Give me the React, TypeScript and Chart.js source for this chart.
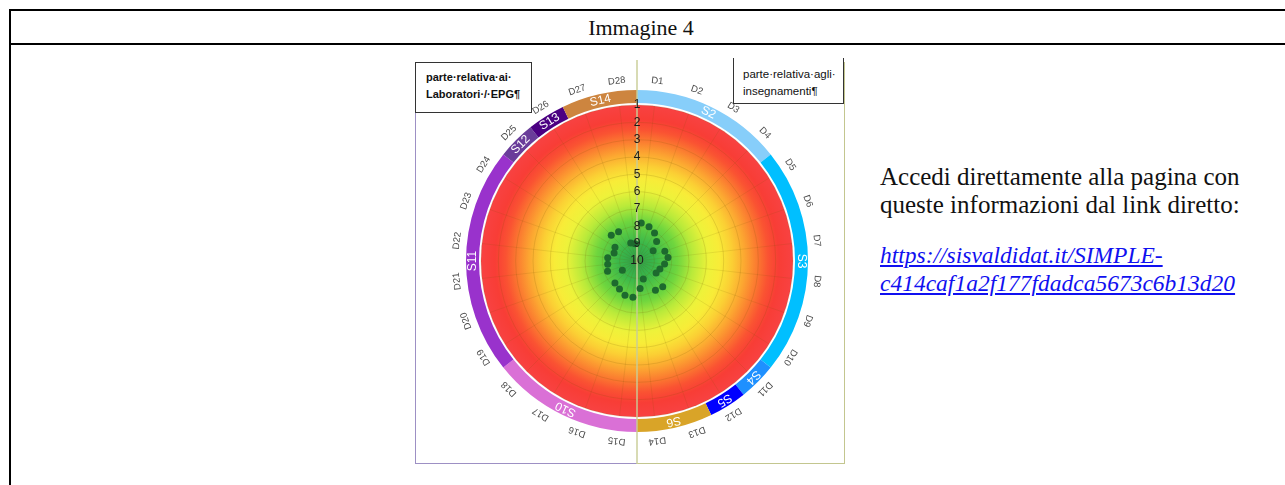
import React, { useEffect, useRef } from "react";
import { Chart, registerables } from "chart.js";

Chart.register(...registerables);

// ---------- data ----------
const dLabels = [
  "D1", "D2", "D3", "D4", "D5", "D6", "D7", "D8", "D9", "D10", "D11", "D12", "D13", "D14",
  "D15", "D16", "D17", "D18", "D19", "D20", "D21", "D22", "D23", "D24", "D25", "D26", "D27", "D28",
];
const dValues = [
  7.8, 7.9, 8.1, 8.4, 8.9, 8.3, 8.2, 8.4, 8.6, 8.7, 7.9, 8.0, 8.9, 8.4,
  7.9, 7.9, 8.1, 8.2, 9.0, 8.2, 8.3, 8.3, 8.6, 8.5, 7.9, 8.0, 8.9, 9.0,
];
const tickMin = 1;
const tickMax = 10;
const tickLabels = ["1", "2", "3", "4", "5", "6", "7", "8", "9", "10"];

const segLabels = ["S2", "S3", "S4", "S5", "S6", "S10", "S11", "S12", "S13", "S14"];
const segSlots = [4, 6, 1, 1, 2, 4, 6, 1, 1, 2];
const segColors = [
  "#87cefa", "#00bfff", "#1e90ff", "#0000ff", "#d9a428",
  "#da70d6", "#9932cc", "#6a3d9a", "#4b0082", "#cd853f",
];

const gradientStops: [number, string][] = [
  [0, "#2f9f4a"],
  [0.12, "#3bb84a"],
  [0.26, "#6fd63e"],
  [0.36, "#b9ea3a"],
  [0.46, "#eef23a"],
  [0.53, "#f8ec38"],
  [0.61, "#fbcf34"],
  [0.69, "#fca731"],
  [0.77, "#fb7a30"],
  [0.84, "#fa5332"],
  [0.91, "#f83d36"],
  [1, "#f84242"],
];

const ringPlugin = {
  id: "ringPlugin",
  beforeDraw(chart: any) {
    const s = chart.scales.r;
    const cx = s.xCenter;
    const cy = s.yCenter;
    const R = s.drawingArea;
    const ctx = chart.ctx as CanvasRenderingContext2D;
    const n = dLabels.length;
    const step = (2 * Math.PI) / n;
    ctx.save();
    // gradient disc
    const g = ctx.createRadialGradient(cx, cy, 0, cx, cy, R);
    gradientStops.forEach(([o, c]) => g.addColorStop(o, c));
    ctx.beginPath();
    ctx.arc(cx, cy, R, 0, Math.PI * 2);
    ctx.fillStyle = g;
    ctx.fill();

    // ring segments
    const rIn = R + 2;
    const rOut = R + 15;
    const rMid = (rIn + rOut) / 2;
    const base = s.getIndexAngle(0) - step / 2;
    let start = 0;
    segSlots.forEach((k, i) => {
      const b0 = base + start * step;
      const b1 = base + (start + k) * step;
      ctx.beginPath();
      ctx.arc(cx, cy, rOut, b0 - Math.PI / 2, b1 - Math.PI / 2);
      ctx.arc(cx, cy, rIn, b1 - Math.PI / 2, b0 - Math.PI / 2, true);
      ctx.closePath();
      ctx.fillStyle = segColors[i];
      ctx.fill();
      const mid = (b0 + b1) / 2;
      ctx.save();
      ctx.translate(cx + rMid * Math.sin(mid), cy - rMid * Math.cos(mid));
      ctx.rotate(mid);
      ctx.fillStyle = "#ffffff";
      ctx.font = "12px 'Liberation Sans', Arial, sans-serif";
      ctx.textAlign = "center";
      ctx.textBaseline = "middle";
      ctx.fillText(segLabels[i], 0, 0);
      ctx.restore();
      start += k;
    });

    // D labels
    const rLab = R + 25;
    dLabels.forEach((lab, i) => {
      const a = s.getIndexAngle(i);
      ctx.save();
      ctx.translate(cx + rLab * Math.sin(a), cy - rLab * Math.cos(a));
      ctx.rotate(a);
      ctx.fillStyle = "#4a4a4a";
      ctx.font = "9.5px 'Liberation Sans', Arial, sans-serif";
      ctx.textAlign = "center";
      ctx.textBaseline = "middle";
      ctx.fillText(lab, 0, 0);
      ctx.restore();
    });
    ctx.restore();
  },
  beforeDatasetsDraw(chart: any) {
    // frame divider passing through the picture centre
    const s = chart.scales.r;
    const ctx = chart.ctx as CanvasRenderingContext2D;
    ctx.save();
    ctx.fillStyle = "rgba(200,204,150,0.95)";
    ctx.fillRect(s.xCenter - 0.75, 3, 1.5, chart.height - 4);
    ctx.restore();
  },
  afterDatasetsDraw(chart: any) {
    // vertical radial tick labels (scale values 1..10)
    const s = chart.scales.r;
    const ctx = chart.ctx as CanvasRenderingContext2D;
    ctx.save();
    ctx.fillStyle = "#1a1a1a";
    ctx.font = "12px 'Liberation Sans', Arial, sans-serif";
    ctx.textAlign = "center";
    ctx.textBaseline = "middle";
    tickLabels.forEach((t) => {
      const d = s.getDistanceFromCenterForValue(Number(t));
      ctx.fillText(t, s.xCenter, s.yCenter - d);
    });
    ctx.restore();
  },
};

function PolarChart() {
  const ref = useRef<HTMLCanvasElement | null>(null);
  useEffect(() => {
    if (!ref.current) return;
    const chart = new Chart(ref.current, {
      type: "radar",
      data: {
        labels: dLabels,
        datasets: [
          {
            data: dValues,
            showLine: false,
            fill: false,
            borderWidth: 0,
            pointRadius: 3.5,
            pointBorderWidth: 0,
            pointBackgroundColor: "#1d6a2e",
            pointBorderColor: "#1d6a2e",
          },
        ],
      },
      options: {
        animation: false,
        responsive: false,
        devicePixelRatio: 1,
        layout: { padding: 48 },
        plugins: {
          legend: { display: false },
          tooltip: { enabled: false },
        },
        scales: {
          r: {
            min: tickMin,
            max: tickMax,
            reverse: true,
            startAngle: 360 / (2 * dLabels.length),
            grid: { circular: true, color: "rgba(110,80,0,0.16)", lineWidth: 1 },
            angleLines: { color: "rgba(110,80,0,0.12)", lineWidth: 1 },
            pointLabels: { display: false },
            ticks: { display: false, stepSize: 1 },
          },
        },
      },
      plugins: [ringPlugin],
    } as any);
    return () => chart.destroy();
  }, []);
  return (
    <canvas
      ref={ref}
      width={408}
      height={408}
      style={{ position: "absolute", left: 433, top: 57, width: 408, height: 408 }}
    />
  );
}

export default function App() {
  const serif = "'Liberation Serif', 'Times New Roman', serif";
  const sans = "'Liberation Sans', Arial, sans-serif";
  return (
    <div
      style={{
        position: "absolute",
        left: 0,
        top: 0,
        width: 1285,
        height: 485,
        overflow: "hidden",
        background: "#ffffff",
      }}
    >
      {/* table frame */}
      <div
        style={{
          position: "absolute",
          left: 9,
          top: 9,
          width: 1300,
          height: 500,
          border: "2px solid #000",
          boxSizing: "border-box",
        }}
      />
      <div style={{ position: "absolute", left: 9, top: 43, width: 1300, height: 2, background: "#000" }} />
      <div
        style={{
          position: "absolute",
          left: 541,
          top: 15,
          width: 200,
          textAlign: "center",
          fontFamily: serif,
          fontSize: 22,
          lineHeight: "26px",
          color: "#111",
        }}
      >
        Immagine 4
      </div>

      {/* image frame */}
      <div
        style={{
          position: "absolute",
          left: 415,
          top: 62,
          width: 222,
          height: 402,
          borderLeft: "1.5px solid #9d90c4",
          borderBottom: "1.5px solid #9d90c4",
          boxSizing: "border-box",
        }}
      />
      <div
        style={{
          position: "absolute",
          left: 637,
          top: 62,
          width: 208,
          height: 402,
          borderRight: "1.5px solid #c3c68f",
          borderBottom: "1.5px solid #c3c68f",
          boxSizing: "border-box",
        }}
      />

      <PolarChart />

      {/* left text box */}
      <div
        style={{
          position: "absolute",
          left: 415,
          top: 62,
          width: 117,
          height: 51,
          border: "1px solid #333",
          boxSizing: "border-box",
          background: "#fff",
          fontFamily: sans,
          fontWeight: "bold",
          fontSize: 11,
          lineHeight: "16.5px",
          paddingLeft: 10,
          paddingTop: 6,
          color: "#111",
        }}
      >
        <div>parte·relativa·ai·</div>
        <div>Laboratori·/·EPG¶</div>
      </div>

      {/* right text box */}
      <div
        style={{
          position: "absolute",
          left: 733,
          top: 58,
          width: 111,
          height: 46,
          borderLeft: "1px solid #333",
          borderRight: "1px solid #333",
          borderBottom: "1px solid #333",
          boxSizing: "border-box",
          background: "#fff",
          fontFamily: sans,
          fontSize: 11.5,
          lineHeight: "17px",
          paddingLeft: 9,
          paddingTop: 8,
          color: "#111",
        }}
      >
        <div>parte·relativa·agli·</div>
        <div>insegnamenti¶</div>
      </div>

      {/* right paragraph */}
      <div
        style={{
          position: "absolute",
          left: 880,
          top: 163,
          width: 400,
          fontFamily: serif,
          fontSize: 25,
          lineHeight: "28px",
          color: "#111",
          whiteSpace: "nowrap",
        }}
      >
        <div>Accedi direttamente alla pagina con</div>
        <div>queste informazioni dal link diretto:</div>
      </div>
      <div
        style={{
          position: "absolute",
          left: 880,
          top: 241,
          width: 400,
          fontFamily: serif,
          fontSize: 23.5,
          lineHeight: "28px",
          fontStyle: "italic",
          whiteSpace: "nowrap",
        }}
      >
        <a href="#" style={{ color: "#1010f0", textDecoration: "underline" }}>
          https://sisvaldidat.it/SIMPLE-
          <br />
          c414caf1a2f177fdadca5673c6b13d20
        </a>
      </div>
    </div>
  );
}
